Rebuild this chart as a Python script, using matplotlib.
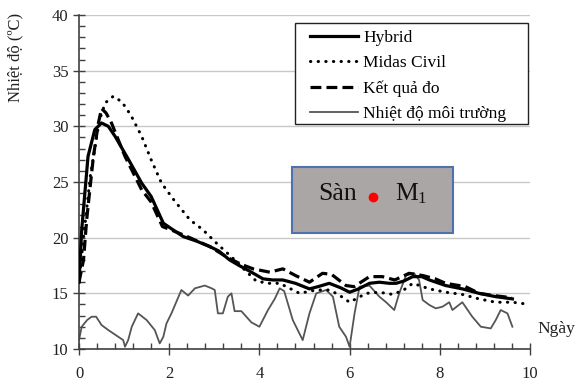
import matplotlib as mpl
mpl.use('Agg')
import matplotlib.pyplot as plt
from matplotlib.patches import Rectangle
from matplotlib.ticker import MultipleLocator

plt.rcParams['font.family'] = ['Liberation Serif', 'DejaVu Serif']

# data
hybrid_x = [0.0, 0.06, 0.2, 0.35, 0.5, 0.65, 0.8, 1.1, 1.39, 1.6, 1.87, 2.05, 2.31, 2.6, 2.9, 3.1,
            3.34, 3.55, 3.78, 4.08, 4.3, 4.52, 4.8, 5.11, 5.3, 5.55, 5.8, 6.0, 6.2, 6.44, 6.66, 6.88,
            7.03, 7.2, 7.4, 7.6, 7.77, 8.13, 8.5, 8.87, 9.24, 9.61]
hybrid_y = [16.0, 20.7, 27.3, 29.7, 30.3, 30.0, 29.1, 27.0, 24.9, 23.7, 21.3, 20.8, 20.1, 19.7, 19.2, 18.8,
            18.0, 17.5, 17.0, 16.3, 16.2, 16.2, 15.9, 15.4, 15.6, 15.9, 15.5, 15.1, 15.4, 15.9, 16.0, 15.9,
            15.9, 16.1, 16.5, 16.5, 16.2, 15.7, 15.4, 15.0, 14.7, 14.5]

midas_x = [0.0, 0.1, 0.25, 0.45, 0.58, 0.76, 0.95, 1.15, 1.39, 1.6, 1.83, 2.12, 2.46, 2.75, 3.05, 3.4,
           3.7, 3.93, 4.2, 4.45, 4.89, 5.26, 5.55, 5.75, 6.0, 6.37, 6.66, 6.96, 7.2, 7.4, 7.77, 8.13,
           8.5, 8.87, 9.24, 9.61, 10.0]
midas_y = [16.0, 20.0, 25.5, 30.5, 32.1, 32.7, 32.2, 31.0, 29.1, 27.0, 24.9, 23.3, 21.6, 20.7, 19.5, 18.2,
           17.0, 16.1, 15.9, 15.9, 15.0, 15.3, 15.3, 14.9, 14.2, 15.0, 15.1, 14.9, 15.3, 15.9, 15.4, 15.1,
           14.9, 14.5, 14.2, 14.2, 14.0]

measured_x = [0.0, 0.1, 0.17, 0.24, 0.32, 0.43, 0.5, 0.6, 0.72, 1.02, 1.39, 1.6, 1.85, 2.1, 2.4, 2.9,
              3.3, 3.6, 3.86, 4.23, 4.52, 4.8, 5.11, 5.4, 5.6, 5.92, 6.1, 6.44, 6.73, 7.0, 7.32, 7.62,
              7.9, 8.13, 8.57, 8.87, 9.2, 9.6]
measured_y = [16.0, 18.0, 21.6, 24.3, 27.3, 30.3, 31.6, 31.2, 30.3, 27.3, 24.3, 23.2, 21.0, 20.6, 20.1, 19.2,
              18.2, 17.6, 17.2, 16.9, 17.2, 16.6, 16.0, 16.8, 16.7, 15.7, 15.6, 16.5, 16.5, 16.2, 16.8, 16.6,
              16.3, 15.9, 15.6, 15.0, 14.8, 14.6]

ambient_x = [0.0, 0.06, 0.18, 0.28, 0.38, 0.5, 0.65, 0.87, 0.98, 1.02, 1.09, 1.17, 1.31, 1.5, 1.68, 1.79,
             1.87, 1.94, 2.05, 2.27, 2.42, 2.57, 2.79, 2.94, 3.01, 3.08, 3.19, 3.3, 3.38, 3.45, 3.6, 3.82,
             4.0, 4.19, 4.34, 4.45, 4.55, 4.74, 4.96, 5.11, 5.26, 5.48, 5.63, 5.77, 5.92, 6.0, 6.11, 6.22,
             6.44, 6.66, 6.81, 6.99, 7.1, 7.25, 7.43, 7.54, 7.62, 7.77, 7.91, 8.06, 8.21, 8.28, 8.5, 8.72,
             8.91, 9.13, 9.24, 9.35, 9.5, 9.61]
ambient_y = [10.8, 12.0, 12.6, 12.9, 12.9, 12.15, 11.7, 11.1, 10.8, 10.2, 10.8, 12.0, 13.2, 12.6, 11.7, 10.5,
             11.1, 12.3, 13.2, 15.3, 14.8, 15.45, 15.7, 15.45, 15.3, 13.2, 13.2, 14.7, 15.0, 13.4, 13.4, 12.4,
             12.0, 13.5, 14.5, 15.45, 15.2, 12.6, 10.8, 13.2, 15.0, 15.3, 14.7, 12.0, 11.1, 10.2, 13.2, 15.6,
             15.7, 14.7, 14.2, 13.5, 15.0, 16.6, 16.8, 16.2, 14.4, 13.95, 13.65, 13.8, 14.2, 13.5, 14.2, 12.9,
             12.0, 11.85, 12.6, 13.5, 13.2, 12.0]

labels = ['Hybrid', 'Midas Civil', 'Kết quả đo', 'Nhiệt độ môi trường']

fig = plt.figure(figsize=(5.85, 3.82), dpi=100)
ax = fig.add_axes([79/585, 1 - 349/382, 451/585, 334/382])

ax.plot(hybrid_x, hybrid_y, color='black', lw=2.3, label=labels[0], zorder=4)
ax.plot(midas_x, midas_y, color='black', lw=2.2, linestyle=(0, (0.1, 2.4)),
        dash_capstyle='round', label=labels[1], zorder=3)
ax.plot(measured_x, measured_y, color='black', lw=2.3, linestyle=(0, (3.4, 1.6)), label=labels[2], zorder=5)
ax.plot(ambient_x, ambient_y, color='#555555', lw=1.3, label=labels[3], zorder=2)

ax.set_xlim(0, 10)
ax.set_ylim(10, 40)
ax.xaxis.set_major_locator(MultipleLocator(2))
ax.xaxis.set_minor_locator(MultipleLocator(0.4))
ax.yaxis.set_major_locator(MultipleLocator(5))
ax.yaxis.set_minor_locator(MultipleLocator(1))
ax.grid(axis='y', which='major', color='#c8c8c8', lw=1)
ax.set_axisbelow(True)

for s in ['top', 'right']:
    ax.spines[s].set_visible(False)
for s in ['left', 'bottom']:
    ax.spines[s].set_color('#404040')
    ax.spines[s].set_linewidth(1.2)
ax.tick_params(which='major', direction='inout', length=9, width=1, color='#404040',
               labelsize=12, labelcolor='#222222')
ax.tick_params(which='minor', direction='in', length=4, width=1, color='#404040')
ax.tick_params(axis='x', which='major', pad=8)
ax.tick_params(axis='y', which='major', pad=3)

fig.text(15/585, 1 - 57/382, 'Nhiệt độ (ºC)', rotation=90, ha='center', va='center',
         fontsize=12, color='#222222')
ax.text(1.016, 0.06, 'Ngày', transform=ax.transAxes, ha='left', va='center',
        fontsize=12.5, color='#222222', clip_on=False)

# legend box drawn separately so its size matches the picture
ax.add_patch(Rectangle((216/451, 225/334), 233/451, 101/334, transform=ax.transAxes,
                       facecolor='white', edgecolor='#222222', lw=1.0, zorder=9))
leg = ax.legend(loc='upper left', bbox_to_anchor=(231/451, 319/334), fontsize=12.5,
                handlelength=2.76, handletextpad=0.3, labelspacing=0.52, borderpad=0,
                borderaxespad=0, frameon=False)
leg.set_zorder(10)

ax.add_patch(Rectangle((0.4716, 0.346), 0.3584, 0.198, transform=ax.transAxes,
                       facecolor='#aaa6a6', edgecolor='#4f72ac', lw=1.5, zorder=6))
ax.text(0.530, 0.446, 'Sàn', transform=ax.transAxes, fontsize=18.5, ha='left',
        va='baseline', color='#111111', zorder=7)
ax.plot([0.651], [0.455], 'o', color='red', ms=6, transform=ax.transAxes, zorder=7)
ax.text(0.7007, 0.446, 'M', transform=ax.transAxes, fontsize=18.5, ha='left',
        va='baseline', color='#111111', zorder=7)
ax.text(0.7507, 0.437, '1', transform=ax.transAxes, fontsize=12, ha='left',
        va='baseline', color='#111111', zorder=7)

fig.savefig('out.png', dpi=100)
